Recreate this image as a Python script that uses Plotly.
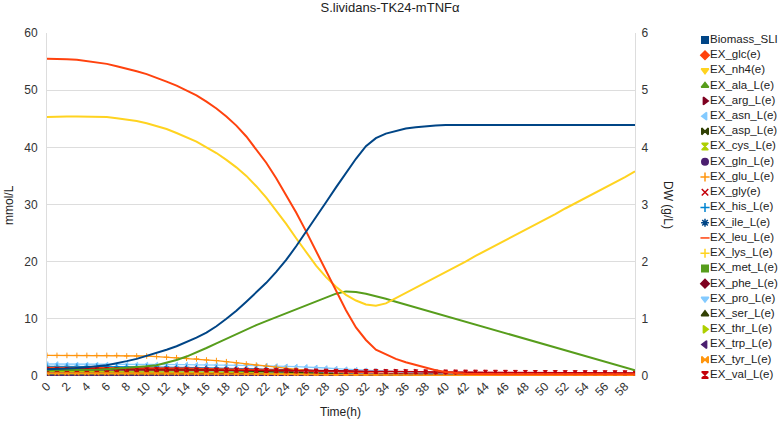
import plotly.graph_objects as go

# ---------------- data ----------------
time_h = [0, 1, 2, 3, 4, 5, 6, 7, 8, 9,
          10, 11, 12, 13, 14, 15, 16, 17, 18, 19,
          20, 21, 22, 23, 24, 25, 26, 27, 28, 29,
          30, 31, 32, 33, 34, 35, 36, 37, 38, 39,
          40, 41, 42, 43, 44, 45, 46, 47, 48, 49,
          50, 51, 52, 53, 54, 55, 56, 57, 58, 59]

biomass = [0.12, 0.12, 0.13, 0.14, 0.15, 0.17, 0.19, 0.22, 0.26, 0.30,
           0.35, 0.40, 0.46, 0.52, 0.59, 0.67, 0.76, 0.87, 1.00, 1.14,
           1.30, 1.46, 1.63, 1.82, 2.03, 2.27, 2.52, 2.78, 3.04, 3.30,
           3.56, 3.80, 4.02, 4.16, 4.24, 4.29, 4.33, 4.35, 4.37, 4.38,
           4.39, 4.39, 4.39, 4.39, 4.39, 4.39, 4.39, 4.39, 4.39, 4.39,
           4.39, 4.39, 4.39, 4.39, 4.39, 4.39, 4.39, 4.39, 4.39, 4.39]

glc = [55.5, 55.5, 55.4, 55.3, 55.1, 54.9, 54.6, 54.2, 53.8, 53.3,
       52.8, 52.2, 51.5, 50.8, 50.0, 49.1, 48.0, 46.8, 45.4, 43.8,
       41.9, 39.7, 37.3, 34.6, 31.7, 28.6, 25.3, 21.9, 18.4, 14.9,
       11.5, 8.5, 6.3, 4.6, 3.8, 3.0, 2.4, 1.9, 1.4, 1.0,
       0.7, 0.5, 0.4, 0.35, 0.3, 0.3, 0.3, 0.3, 0.3, 0.3,
       0.3, 0.3, 0.3, 0.3, 0.3, 0.3, 0.3, 0.3, 0.3, 0.3]

nh4 = [45.3, 45.4, 45.4, 45.4, 45.4, 45.3, 45.3, 45.1, 44.9, 44.6,
       44.2, 43.7, 43.2, 42.5, 41.8, 41.0, 40.0, 39.0, 37.8, 36.5,
       35.0, 33.2, 31.2, 29.0, 26.6, 24.1, 21.6, 19.3, 17.3, 15.6,
       14.2, 13.2, 12.5, 12.3, 12.7, 13.6, 14.5, 15.4, 16.3, 17.2,
       18.2, 19.1, 20.0, 21.0, 21.9, 22.8, 23.7, 24.7, 25.6, 26.5,
       27.4, 28.3, 29.3, 30.2, 31.1, 32.0, 32.9, 33.9, 34.8, 35.8]

ala = [1.0, 1.0, 1.0, 1.0, 1.1, 1.1, 1.2, 1.3, 1.4, 1.5,
       1.7, 1.9, 2.3, 2.8, 3.4, 4.1, 4.9, 5.7, 6.5, 7.4,
       8.2, 8.9, 9.6, 10.3, 11.0, 11.7, 12.4, 13.1, 13.8, 14.4,
       14.8, 14.7, 14.4, 14.0, 13.5, 13.0, 12.5, 12.0, 11.5, 11.0,
       10.5, 10.0, 9.5, 9.0, 8.5, 8.0, 7.5, 7.0, 6.5, 6.0,
       5.5, 5.0, 4.5, 4.0, 3.5, 3.0, 2.5, 2.0, 1.5, 1.0]

arg = [1.3, 1.3, 1.3, 1.3, 1.3, 1.3, 1.3, 1.3, 1.3, 1.3,
       1.3, 1.3, 1.28, 1.28, 1.27, 1.27, 1.26, 1.25, 1.24, 1.22,
       1.2, 1.2, 1.15, 1.15, 1.1, 1.1, 1.05, 1.0, 1.0, 0.95,
       0.9, 0.9, 0.85, 0.85, 0.8, 0.8, 0.75, 0.75, 0.7, 0.7,
       0.65, 0.65, 0.6, 0.6, 0.6, 0.55, 0.55, 0.55, 0.5, 0.5,
       0.5, 0.5, 0.5, 0.5, 0.5, 0.5, 0.5, 0.5, 0.5, 0.5]

asn = [2.1, 2.1, 2.0, 2.0, 2.0, 2.0, 2.0, 2.0, 2.0, 2.0,
       2.0, 2.0, 2.0, 2.0, 2.0, 1.95, 1.95, 1.9, 1.9, 1.9,
       1.85, 1.8, 1.8, 1.75, 1.7, 1.65, 1.6, 1.5, 1.4, 1.3,
       1.2, 1.1, 1.0, 0.9, 0.8, 0.7, 0.6, 0.5, 0.4, 0.3,
       0.2, 0.15, 0.1, 0.1, 0.1, 0.1, 0.1, 0.1, 0.1, 0.1,
       0.1, 0.1, 0.1, 0.1, 0.1, 0.1, 0.1, 0.1, 0.1, 0.1]

asp = [0.8, 0.8, 0.8, 0.8, 0.8, 0.8, 0.8, 0.8, 0.8, 0.8,
       0.79, 0.78, 0.77, 0.76, 0.74, 0.72, 0.7, 0.68, 0.65, 0.62,
       0.59, 0.55, 0.51, 0.47, 0.42, 0.37, 0.32, 0.27, 0.23, 0.19,
       0.16, 0.13, 0.11, 0.1, 0.1, 0.1, 0.1, 0.1, 0.1, 0.1,
       0.1, 0.1, 0.1, 0.1, 0.1, 0.1, 0.1, 0.1, 0.1, 0.1,
       0.1, 0.1, 0.1, 0.1, 0.1, 0.1, 0.1, 0.1, 0.1, 0.1]

cys = [0.2, 0.2, 0.2, 0.2, 0.2, 0.2, 0.2, 0.2, 0.2, 0.2,
       0.2, 0.2, 0.2, 0.2, 0.2, 0.2, 0.2, 0.2, 0.2, 0.2,
       0.2, 0.2, 0.2, 0.2, 0.2, 0.2, 0.2, 0.2, 0.2, 0.2,
       0.2, 0.2, 0.2, 0.2, 0.2, 0.2, 0.2, 0.2, 0.2, 0.2,
       0.2, 0.2, 0.2, 0.2, 0.2, 0.2, 0.2, 0.2, 0.2, 0.2,
       0.2, 0.2, 0.2, 0.2, 0.2, 0.2, 0.2, 0.2, 0.2, 0.2]

gln = [0.15, 0.15, 0.15, 0.15, 0.15, 0.15, 0.15, 0.15, 0.15, 0.15,
       0.15, 0.15, 0.15, 0.15, 0.15, 0.15, 0.15, 0.15, 0.15, 0.15,
       0.15, 0.15, 0.15, 0.15, 0.15, 0.15, 0.15, 0.15, 0.15, 0.15,
       0.15, 0.15, 0.15, 0.15, 0.15, 0.15, 0.15, 0.15, 0.15, 0.15,
       0.15, 0.15, 0.15, 0.15, 0.15, 0.15, 0.15, 0.15, 0.15, 0.15,
       0.15, 0.15, 0.15, 0.15, 0.15, 0.15, 0.15, 0.15, 0.15, 0.15]

glu = [3.6, 3.6, 3.6, 3.6, 3.6, 3.6, 3.6, 3.6, 3.5, 3.5,
       3.5, 3.4, 3.3, 3.2, 3.1, 3.0, 2.8, 2.7, 2.5, 2.3,
       2.1, 1.9, 1.7, 1.5, 1.3, 1.1, 0.9, 0.75, 0.6, 0.5,
       0.4, 0.35, 0.3, 0.25, 0.2, 0.2, 0.2, 0.2, 0.2, 0.2,
       0.2, 0.2, 0.2, 0.2, 0.2, 0.2, 0.2, 0.2, 0.2, 0.2,
       0.2, 0.2, 0.2, 0.2, 0.2, 0.2, 0.2, 0.2, 0.2, 0.2]

gly = [1.4, 1.4, 1.4, 1.4, 1.4, 1.4, 1.4, 1.38, 1.37, 1.36,
       1.35, 1.33, 1.31, 1.29, 1.27, 1.25, 1.22, 1.19, 1.16, 1.12,
       1.08, 1.03, 0.97, 0.9, 0.82, 0.73, 0.64, 0.55, 0.47, 0.4,
       0.34, 0.3, 0.27, 0.25, 0.23, 0.22, 0.21, 0.2, 0.2, 0.2,
       0.2, 0.2, 0.2, 0.2, 0.2, 0.2, 0.2, 0.2, 0.2, 0.2,
       0.2, 0.2, 0.2, 0.2, 0.2, 0.2, 0.2, 0.2, 0.2, 0.2]

his = [1.7, 1.7, 1.7, 1.7, 1.7, 1.7, 1.65, 1.65, 1.6, 1.6,
       1.6, 1.55, 1.55, 1.5, 1.5, 1.45, 1.4, 1.4, 1.35, 1.3,
       1.25, 1.2, 1.15, 1.1, 1.0, 0.9, 0.8, 0.7, 0.6, 0.5,
       0.4, 0.35, 0.3, 0.25, 0.2, 0.15, 0.1, 0.1, 0.1, 0.1,
       0.1, 0.1, 0.1, 0.1, 0.1, 0.1, 0.1, 0.1, 0.1, 0.1,
       0.1, 0.1, 0.1, 0.1, 0.1, 0.1, 0.1, 0.1, 0.1, 0.1]

ile = [0.9, 0.9, 0.9, 0.9, 0.9, 0.9, 0.9, 0.9, 0.89, 0.88,
       0.87, 0.86, 0.85, 0.84, 0.83, 0.82, 0.8, 0.78, 0.76, 0.74,
       0.71, 0.68, 0.64, 0.6, 0.55, 0.5, 0.45, 0.4, 0.35, 0.3,
       0.26, 0.22, 0.19, 0.16, 0.14, 0.12, 0.11, 0.1, 0.1, 0.1,
       0.1, 0.1, 0.1, 0.1, 0.1, 0.1, 0.1, 0.1, 0.1, 0.1,
       0.1, 0.1, 0.1, 0.1, 0.1, 0.1, 0.1, 0.1, 0.1, 0.1]

leu = [1.5, 1.5, 1.5, 1.5, 1.5, 1.5, 1.49, 1.48, 1.47, 1.46,
       1.45, 1.43, 1.41, 1.39, 1.37, 1.35, 1.32, 1.29, 1.26, 1.22,
       1.18, 1.13, 1.08, 1.02, 0.96, 0.9, 0.84, 0.78, 0.72, 0.66,
       0.6, 0.55, 0.5, 0.45, 0.41, 0.37, 0.34, 0.31, 0.28, 0.26,
       0.25, 0.25, 0.25, 0.25, 0.25, 0.25, 0.25, 0.25, 0.25, 0.25,
       0.25, 0.25, 0.25, 0.25, 0.25, 0.25, 0.25, 0.25, 0.25, 0.25]

lys = [0.7, 0.7, 0.7, 0.7, 0.7, 0.7, 0.7, 0.7, 0.7, 0.7,
       0.69, 0.68, 0.67, 0.66, 0.65, 0.63, 0.61, 0.59, 0.56, 0.53,
       0.5, 0.46, 0.42, 0.38, 0.34, 0.3, 0.26, 0.22, 0.19, 0.16,
       0.14, 0.12, 0.11, 0.1, 0.1, 0.1, 0.1, 0.1, 0.1, 0.1,
       0.1, 0.1, 0.1, 0.1, 0.1, 0.1, 0.1, 0.1, 0.1, 0.1,
       0.1, 0.1, 0.1, 0.1, 0.1, 0.1, 0.1, 0.1, 0.1, 0.1]

met = [0.4, 0.4, 0.4, 0.4, 0.4, 0.4, 0.4, 0.4, 0.4, 0.4,
       0.4, 0.39, 0.38, 0.37, 0.36, 0.35, 0.34, 0.33, 0.32, 0.31,
       0.3, 0.29, 0.28, 0.27, 0.26, 0.25, 0.24, 0.22, 0.2, 0.18,
       0.16, 0.15, 0.14, 0.13, 0.12, 0.11, 0.1, 0.1, 0.1, 0.1,
       0.1, 0.1, 0.1, 0.1, 0.1, 0.1, 0.1, 0.1, 0.1, 0.1,
       0.1, 0.1, 0.1, 0.1, 0.1, 0.1, 0.1, 0.1, 0.1, 0.1]

phe = [0.5, 0.5, 0.5, 0.5, 0.5, 0.5, 0.5, 0.5, 0.5, 0.5,
       0.5, 0.49, 0.49, 0.48, 0.48, 0.47, 0.47, 0.46, 0.46, 0.45,
       0.45, 0.44, 0.43, 0.42, 0.41, 0.4, 0.39, 0.38, 0.37, 0.36,
       0.35, 0.34, 0.33, 0.32, 0.31, 0.3, 0.3, 0.3, 0.3, 0.3,
       0.3, 0.3, 0.3, 0.3, 0.3, 0.3, 0.3, 0.3, 0.3, 0.3,
       0.3, 0.3, 0.3, 0.3, 0.3, 0.3, 0.3, 0.3, 0.3, 0.3]

pro = [0.95, 0.95, 0.95, 0.95, 0.95, 0.95, 0.95, 0.95, 0.95, 0.95,
       0.94, 0.93, 0.92, 0.91, 0.9, 0.89, 0.88, 0.86, 0.84, 0.82,
       0.8, 0.77, 0.74, 0.7, 0.66, 0.62, 0.57, 0.52, 0.47, 0.42,
       0.37, 0.33, 0.29, 0.26, 0.23, 0.21, 0.2, 0.2, 0.2, 0.2,
       0.2, 0.2, 0.2, 0.2, 0.2, 0.2, 0.2, 0.2, 0.2, 0.2,
       0.2, 0.2, 0.2, 0.2, 0.2, 0.2, 0.2, 0.2, 0.2, 0.2]

ser = [1.15, 1.15, 1.15, 1.15, 1.15, 1.15, 1.15, 1.15, 1.15, 1.15,
       1.14, 1.13, 1.12, 1.1, 1.08, 1.06, 1.03, 1.0, 0.97, 0.93,
       0.89, 0.84, 0.79, 0.73, 0.67, 0.61, 0.54, 0.47, 0.4, 0.34,
       0.28, 0.23, 0.19, 0.16, 0.13, 0.11, 0.1, 0.1, 0.1, 0.1,
       0.1, 0.1, 0.1, 0.1, 0.1, 0.1, 0.1, 0.1, 0.1, 0.1,
       0.1, 0.1, 0.1, 0.1, 0.1, 0.1, 0.1, 0.1, 0.1, 0.1]

thr = [0.8, 0.8, 0.8, 0.8, 0.8, 0.8, 0.8, 0.8, 0.8, 0.8,
       0.79, 0.78, 0.77, 0.76, 0.75, 0.73, 0.71, 0.69, 0.66, 0.63,
       0.6, 0.56, 0.52, 0.47, 0.42, 0.37, 0.32, 0.27, 0.22, 0.18,
       0.15, 0.12, 0.1, 0.1, 0.1, 0.1, 0.1, 0.1, 0.1, 0.1,
       0.1, 0.1, 0.1, 0.1, 0.1, 0.1, 0.1, 0.1, 0.1, 0.1,
       0.1, 0.1, 0.1, 0.1, 0.1, 0.1, 0.1, 0.1, 0.1, 0.1]

trp = [0.12, 0.12, 0.12, 0.12, 0.12, 0.12, 0.12, 0.12, 0.12, 0.12,
       0.12, 0.12, 0.12, 0.12, 0.12, 0.12, 0.12, 0.12, 0.12, 0.12,
       0.12, 0.12, 0.12, 0.12, 0.12, 0.12, 0.12, 0.12, 0.12, 0.12,
       0.1, 0.1, 0.1, 0.1, 0.1, 0.1, 0.1, 0.1, 0.1, 0.1,
       0.1, 0.1, 0.1, 0.1, 0.1, 0.1, 0.1, 0.1, 0.1, 0.1,
       0.1, 0.1, 0.1, 0.1, 0.1, 0.1, 0.1, 0.1, 0.1, 0.1]

tyr = [0.45, 0.45, 0.45, 0.45, 0.45, 0.45, 0.45, 0.45, 0.45, 0.45,
       0.45, 0.44, 0.44, 0.43, 0.43, 0.42, 0.41, 0.4, 0.39, 0.38,
       0.37, 0.35, 0.33, 0.31, 0.29, 0.27, 0.25, 0.23, 0.21, 0.19,
       0.17, 0.15, 0.14, 0.13, 0.12, 0.11, 0.1, 0.1, 0.1, 0.1,
       0.1, 0.1, 0.1, 0.1, 0.1, 0.1, 0.1, 0.1, 0.1, 0.1,
       0.1, 0.1, 0.1, 0.1, 0.1, 0.1, 0.1, 0.1, 0.1, 0.1]

val = [1.1, 1.1, 1.1, 1.1, 1.1, 1.1, 1.1, 1.1, 1.1, 1.1,
       1.1, 1.1, 1.08, 1.07, 1.06, 1.05, 1.04, 1.03, 1.02, 1.01,
       1.0, 0.98, 0.96, 0.94, 0.92, 0.9, 0.88, 0.86, 0.84, 0.82,
       0.8, 0.79, 0.78, 0.77, 0.76, 0.75, 0.74, 0.73, 0.72, 0.71,
       0.7, 0.69, 0.68, 0.67, 0.66, 0.65, 0.64, 0.63, 0.62, 0.61,
       0.6, 0.6, 0.59, 0.59, 0.58, 0.58, 0.57, 0.57, 0.56, 0.56]

series_names = ["Biomass_SLI", "EX_glc(e)", "EX_nh4(e)", "EX_ala_L(e)", "EX_arg_L(e)",
                "EX_asn_L(e)", "EX_asp_L(e)", "EX_cys_L(e)", "EX_gln_L(e)", "EX_glu_L(e)",
                "EX_gly(e)", "EX_his_L(e)", "EX_ile_L(e)", "EX_leu_L(e)", "EX_lys_L(e)",
                "EX_met_L(e)", "EX_phe_L(e)", "EX_pro_L(e)", "EX_ser_L(e)", "EX_thr_L(e)",
                "EX_trp_L(e)", "EX_tyr_L(e)", "EX_val_L(e)"]

# ---------------- styling ----------------
series_values = [biomass, glc, nh4, ala, arg, asn, asp, cys, gln, glu, gly, his,
                 ile, leu, lys, met, phe, pro, ser, thr, trp, tyr, val]
colors = ["#004586", "#ff420e", "#ffd320", "#579d1c", "#7e0021", "#83caff", "#314004",
          "#aecf00", "#4b1f6f", "#ff950e", "#c5000b", "#0084d1", "#004586", "#ff420e",
          "#ffd320", "#579d1c", "#7e0021", "#83caff", "#314004", "#aecf00", "#4b1f6f",
          "#ff950e", "#c5000b"]
symbols = ["square", "diamond", "triangle-down", "triangle-up", "triangle-right",
           "triangle-left", "bowtie", "hourglass", "circle", "cross-thin", "x-thin",
           "cross-thin", "asterisk", "line-ew", "cross-thin", "square", "diamond",
           "triangle-down", "triangle-up", "triangle-right", "triangle-left", "bowtie",
           "hourglass"]

FONT = "Liberation Sans, Arial, sans-serif"
W, H = 778, 423
PL, PR, PT, PB = 47, 635, 33, 376          # plot box in page pixels
ML, MR, MT, MB = PL, 0, PT, H - PB
PW = W - ML - MR
PH = H - MT - MB
x_dom_end = (PR - PL) / PW


def px_x(page_x):
    return (page_x - PL) / PW


def px_y(page_y):
    return (PB - page_y) / PH


n_items = len(series_names)
leg_top, leg_bot = 40, 375
leg_dom_start = 0.82
leg_left_px = PL + leg_dom_start * PW
leg_marker_x = (705 - leg_left_px) / (PL + PW - leg_left_px)
f0 = (PB - leg_top) / PH
f1 = (PB - leg_bot) / PH
span = (n_items - 1) / (f0 - f1)
y_lo = -f0 * span
y_hi = y_lo + span

fig = go.Figure()

order = list(range(4, n_items)) + [3, 2, 1, 0]
for i in order:
    main = i < 4
    fig.add_trace(go.Scatter(
        x=time_h, y=series_values[i], name=series_names[i],
        mode="lines" if main else "lines+markers",
        line=dict(color=colors[i], width=2 if main else 1.3),
        marker=dict(symbol=symbols[i], size=4, color=colors[i],
                    line=dict(color=colors[i], width=1)),
        yaxis="y2" if i == 0 else "y",
        xaxis="x",
        showlegend=False,
    ))

# legend column
fig.add_trace(go.Scatter(
    x=[leg_marker_x] * n_items,
    y=[-k for k in range(n_items)],
    xaxis="x2", yaxis="y3",
    mode="markers+text",
    text=series_names,
    textposition="middle right",
    textfont=dict(family=FONT, size=11.5, color="#222"),
    marker=dict(symbol=symbols, size=6.5, color=colors,
                line=dict(color=colors, width=1.5)),
    cliponaxis=False, hoverinfo="skip", showlegend=False,
))

tick_font = dict(family=FONT, size=12, color="#333")
fig.update_layout(
    width=W, height=H,
    margin=dict(l=ML, r=MR, t=MT, b=MB),
    paper_bgcolor="white", plot_bgcolor="white",
    font=dict(family=FONT, size=12, color="#333"),
    showlegend=False,
    title=dict(text="S.lividans-TK24-mTNFα", x=px_x(390), xref="paper", xanchor="center",
               y=1 - 3 / H, yref="container", yanchor="top",
               font=dict(family=FONT, size=13, color="#222")),
    xaxis=dict(domain=[0, x_dom_end], range=[0, 59], tick0=0, dtick=2,
               tickangle=-45, showgrid=False, zeroline=False, showline=False,
               ticks="", tickfont=tick_font, anchor="y"),
    yaxis=dict(range=[0, 60], dtick=10, showgrid=True, gridcolor="#dddddd",
               zeroline=False, showline=True, linecolor="#dddddd", linewidth=1,
               ticks="", ticklabelstandoff=6, tickfont=tick_font, anchor="x"),
    yaxis2=dict(range=[0, 6], dtick=1, overlaying="y", side="right", anchor="x",
                showgrid=False, zeroline=False, showline=True, linecolor="#dddddd",
                linewidth=1, ticks="", ticklabelstandoff=3, tickfont=tick_font),
    xaxis2=dict(domain=[leg_dom_start, 1], range=[0, 1], visible=False, anchor="y3"),
    yaxis3=dict(domain=[0, 1], range=[y_lo, y_hi], visible=False, anchor="x2"),
    annotations=[
        dict(text="mmol/L", xref="paper", yref="paper", x=px_x(9), y=px_y(205),
             textangle=-90, showarrow=False, xanchor="center", yanchor="middle",
             font=dict(family=FONT, size=12, color="#222")),
        dict(text="DW (g/L)", xref="paper", yref="paper", x=px_x(668), y=px_y(205),
             textangle=90, showarrow=False, xanchor="center", yanchor="middle",
             font=dict(family=FONT, size=12, color="#222")),
        dict(text="Time(h)", xref="paper", yref="paper", x=px_x(340), y=px_y(412),
             showarrow=False, xanchor="center", yanchor="middle",
             font=dict(family=FONT, size=12, color="#222")),
    ],
)

fig.write_html(
    "out.html",
    config={"displayModeBar": False},
    post_script="document.body.style.margin='0px';document.body.style.overflow='hidden';",
)
